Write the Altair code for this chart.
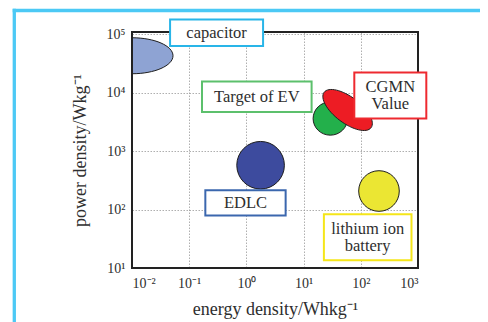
import math
import altair as alt
import pandas as pd

# ---------------- data ----------------
names = ["capacitor", "EDLC", "Target of EV", "CGMN Value", "lithium ion battery"]
energy = [0.01, 1.77, 29.3, 58.8, 208]          # Wh/kg (blob centre)
power = [4.3e4, 574, 3615, 5070, 208]            # W/kg  (blob centre)

label_text = ["capacitor", "EDLC", "Target of EV", "CGMN\nValue", "lithium ion\nbattery"]
label_energy = [0.301, 0.964, 1.52, 328, 132]
label_power = [1.065e5, 130, 8550, 8950, 33.6]

x_ticks = [0.01, 0.1, 1, 10, 100, 1000]
x_tick_labels = ["10⁻²", "10⁻¹", "10⁰", "10¹", "10²", "10³"]
y_ticks = [10, 100, 1000, 10000, 100000]
y_tick_labels = ["10¹", "10²", "10³", "10⁴", "10⁵"]

# ---------------- styles ----------------
W, H = 286, 236
PAD = {"left": 124, "top": 24, "right": 62, "bottom": 54}
FONT = "Liberation Serif"
TXT = "#2e2e2e"
LH = 17.5

# (rx px, ry px, rotation deg, fill)
blob_style = {
    "capacitor": (41, 18, 0, "#8EA3D3"),
    "EDLC": (23.8, 23.8, 0, "#3D4B9E"),
    "Target of EV": (17.2, 16.6, 0, "#23B04B"),
    "CGMN Value": (29.4, 13.0, 37, "#ED1C24"),
    "lithium ion battery": (20.3, 20.3, 0, "#EBE633"),
}
# (box width px, box height px, border colour)
box_style = {
    "capacitor": (93, 26.4, "#29B5E8"),
    "EDLC": (80.3, 25.3, "#3B67AE"),
    "Target of EV": (109.6, 30.4, "#5CC06C"),
    "CGMN Value": (72, 46, "#EE2A30"),
    "lithium ion battery": (87.6, 46, "#F5E61A"),
}

K = 0.5523


def ellipse_path(rx, ry, deg):
    c, s = math.cos(math.radians(deg)), math.sin(math.radians(deg))
    pts = [(-1, 0),
           (-1, -K), (-K, -1), (0, -1),
           (K, -1), (1, -K), (1, 0),
           (1, K), (K, 1), (0, 1),
           (-K, 1), (-1, K), (-1, 0)]
    out = []
    for (u, v) in pts:
        x, y = u * rx, v * ry
        out.append((x * c - y * s, x * s + y * c))
    f = lambda p: f"{p[0]:.2f} {p[1]:.2f}"
    d = "M " + f(out[0])
    for i in range(1, 13, 3):
        d += " C " + f(out[i]) + " " + f(out[i + 1]) + " " + f(out[i + 2])
    return d + " Z"


def rect_path(w, h):
    a, b = w / 2, h / 2
    return f"M {-a} {-b} L {a} {-b} L {a} {b} L {-a} {b} Z"


blobs = pd.DataFrame({"name": names, "energy": energy, "power": power})
labels = pd.DataFrame({"name": names, "text": label_text,
                       "energy": label_energy, "power": label_power})
labels["lines"] = labels["text"].str.count("\n") + 1

xscale = alt.Scale(type="log", domain=[0.01, 1000], nice=False)
yscale = alt.Scale(type="log", domain=[10, 10 ** 5.04], nice=False)


def lab_expr(ticks, labs):
    arr = "[" + ",".join("'" + t + "'" for t in labs) + "]"
    off = -round(math.log10(ticks[0]))
    return f"{arr}[round(log(datum.value)/LN10) + {off}]"


common_axis = dict(grid=True, ticks=False, domain=False, gridColor="#9a9a9a",
                   gridDash=[1.5, 1.5], gridWidth=0.8, labelFont=FONT,
                   labelFontSize=14, labelColor=TXT, titleFont=FONT,
                   titleFontSize=18, titleFontWeight="normal", titleColor=TXT)

x_enc = alt.X("energy:Q", scale=xscale,
              axis=alt.Axis(values=x_ticks, labelExpr=lab_expr(x_ticks, x_tick_labels),
                            title="energy density/Whkg⁻¹", labelPadding=8,
                            titlePadding=10, **common_axis))
y_enc = alt.Y("power:Q", scale=yscale,
              axis=alt.Axis(values=y_ticks, labelExpr=lab_expr(y_ticks, y_tick_labels),
                            title="power density/Wkg⁻¹", labelPadding=7,
                            titlePadding=17, **common_axis))

blob_layer = alt.Chart(blobs).mark_point(
    filled=True, size=4, opacity=1, stroke="#1e1e1e", strokeWidth=1, clip=True
).encode(
    x=x_enc, y=y_enc,
    shape=alt.Shape("name:N", legend=None, scale=alt.Scale(
        domain=names, range=[ellipse_path(*blob_style[n][:3]) for n in names])),
    fill=alt.Fill("name:N", legend=None, scale=alt.Scale(
        domain=names, range=[blob_style[n][3] for n in names])),
)

frame = alt.Chart(pd.DataFrame({"a": [0]})).mark_rect(
    filled=False, stroke="#222222", strokeWidth=2
).encode(x=alt.value(0), x2=alt.value(W), y=alt.value(0), y2=alt.value(H))

box_layer = alt.Chart(labels).mark_point(
    filled=True, size=4, opacity=1, fill="white", strokeWidth=2
).encode(
    x=alt.X("energy:Q", scale=xscale), y=alt.Y("power:Q", scale=yscale),
    shape=alt.Shape("name:N", legend=None, scale=alt.Scale(
        domain=names, range=[rect_path(*box_style[n][:2]) for n in names])),
    stroke=alt.Stroke("name:N", legend=None, scale=alt.Scale(
        domain=names, range=[box_style[n][2] for n in names])),
)


def text_layer(nlines):
    return alt.Chart(labels).transform_filter(
        f"datum.lines == {nlines}"
    ).mark_text(
        font=FONT, fontSize=16.5, color=TXT, lineBreak="\n", lineHeight=LH,
        align="center", baseline="middle", dy=-(nlines - 1) * LH / 2
    ).encode(
        x=alt.X("energy:Q", scale=xscale), y=alt.Y("power:Q", scale=yscale),
        text="text:N",
    )


one = pd.DataFrame({"a": [0]})
BLUE = "#4CC9F5"
left_rule = alt.Chart(one).mark_rule(color=BLUE, strokeWidth=3.3).encode(
    x=alt.value(-117.7), y=alt.value(-23.2), y2=alt.value(H + PAD["bottom"]))
top_rule = alt.Chart(one).mark_rule(color=BLUE, strokeWidth=3.3).encode(
    y=alt.value(-21.5), x=alt.value(-119.3), x2=alt.value(W + PAD["right"]))

chart = alt.layer(
    blob_layer, frame, box_layer, text_layer(1), text_layer(2), left_rule, top_rule
).resolve_scale(
    shape="independent", stroke="independent", fill="independent"
).properties(
    width=W, height=H,
    padding=PAD,
    autosize=alt.AutoSizeParams(type="none"),
    background="white",
).configure_view(strokeWidth=0)

chart.save("out.html", embed_options={"renderer": "svg", "actions": False})
